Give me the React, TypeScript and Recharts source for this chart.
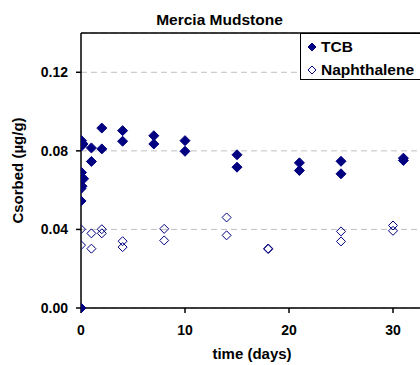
import React from "react";
import { ScatterChart, Scatter, XAxis, YAxis, CartesianGrid, ReferenceLine, Label } from "recharts";

const tcbDays = [0, 0, 0, 0.1, 0.25, 0.05, 0.05, 0.2, 0.05, 1, 1, 2, 2, 4, 4, 7, 7, 10, 10, 15, 15, 21, 21, 25, 25, 31, 31];
const tcbValues = [0, 0.0545, 0.0608, 0.062, 0.0658, 0.069, 0.0852, 0.0835, 0.0825, 0.0815, 0.0746, 0.0916, 0.081, 0.0903, 0.0849, 0.0877, 0.0835, 0.0852, 0.0798, 0.078, 0.0717, 0.0739, 0.07, 0.0747, 0.0683, 0.0763, 0.0751];

const naphDays = [0, 0, 1, 1, 2, 2, 4, 4, 8, 8, 14, 14, 18, 18, 25, 25, 30, 30];
const naphValues = [0.0401, 0.032, 0.038, 0.0302, 0.0401, 0.038, 0.034, 0.031, 0.0403, 0.0344, 0.0461, 0.037, 0.0303, 0.03, 0.039, 0.0339, 0.042, 0.0393];

const xTicks = [0, 10, 20, 30];
const yTicks = [0, 0.04, 0.08, 0.12];

const tcbData = tcbDays.map((d, i) => ({ x: d, y: tcbValues[i] }));
const naphData = naphDays.map((d, i) => ({ x: d, y: naphValues[i] }));

const NAVY = "#000080";
const FONT = "Arial, 'Liberation Sans', Helvetica, sans-serif";

function Diamond(props: any) {
    const { cx, cy, filled, r = filled ? 5 : 4.5 } = props;
    const pts = `${cx},${cy - r} ${cx + r},${cy} ${cx},${cy + r} ${cx - r},${cy}`;
    return filled
        ? <polygon points={pts} fill={NAVY} stroke={NAVY} strokeWidth={1} />
        : <polygon points={pts} fill="none" stroke={NAVY} strokeWidth={1} />;
}

function ChartLegend() {
    const row = (label: string, filled: boolean) => (
        <div style={{ display: "flex", alignItems: "center", height: 23 }}>
            <svg width={18} height={12}>
                <Diamond cx={10} cy={6} r={4} filled={filled} />
            </svg>
            <span style={{ marginLeft: 1 }}>{label}</span>
        </div>
    );
    return (
        <div
            style={{
                position: "absolute",
                left: 300,
                top: 33,
                border: "1px solid #000",
                background: "#fff",
                width: 140,
                height: 47,
                fontFamily: FONT,
                fontWeight: "bold",
                fontSize: 15.5,
                color: "#000",
                boxSizing: "border-box",
                paddingLeft: 1,
                paddingTop: 1,
            }}
        >
            {row("TCB", true)}
            {row("Naphthalene", false)}
        </div>
    );
}

export default function App() {
    return (
        <div style={{ position: "absolute", left: 0, top: 0, width: 420, height: 365, overflow: "hidden", background: "#fff" }}>
            <div
                style={{
                    position: "absolute",
                    left: 0,
                    width: 439,
                    top: 11,
                    textAlign: "center",
                    fontFamily: FONT,
                    fontWeight: "bold",
                    fontSize: 15.5,
                }}
            >
                Mercia Mudstone
            </div>
            <ScatterChart width={445} height={365} margin={{ top: 33, right: 0, bottom: 0, left: 0 }}>
                <CartesianGrid vertical={false} stroke="#c0c0c0" strokeDasharray="6 4" />
                <XAxis
                    type="number"
                    dataKey="x"
                    domain={[0, 35]}
                    ticks={xTicks}
                    allowDataOverflow
                    stroke="#000"
                    strokeWidth={1.5}
                    tickSize={5}
                    tickMargin={12}
                    height={57}
                    tick={{ fill: "#000", fontSize: 14, fontWeight: "bold", fontFamily: FONT }}
                >
                    <Label value="time (days)" position="insideBottom" offset={6} dx={-11} fill="#000" fontSize={15} fontWeight="bold" fontFamily={FONT} />
                </XAxis>
                <YAxis
                    type="number"
                    dataKey="y"
                    domain={[0, 0.14]}
                    ticks={yTicks}
                    tickFormatter={(v) => v.toFixed(2)}
                    stroke="#000"
                    strokeWidth={1.5}
                    tickSize={5}
                    tickMargin={8}
                    width={81}
                    tick={{ fill: "#000", fontSize: 14, fontWeight: "bold", fontFamily: FONT }}
                >
                    <Label value="Csorbed (µg/g)" angle={-90} position="insideLeft" offset={18} style={{ textAnchor: "middle" }} fill="#000" fontSize={15} fontWeight="bold" fontFamily={FONT} />
                </YAxis>
                <ReferenceLine y={0.14} stroke="#000" strokeWidth={1.5} ifOverflow="extendDomain" />
                <Scatter name="TCB" data={tcbData} shape={(p: any) => <Diamond {...p} filled />} isAnimationActive={false} />
                <Scatter name="Naphthalene" data={naphData} shape={(p: any) => <Diamond {...p} filled={false} />} isAnimationActive={false} />
            </ScatterChart>
            <ChartLegend />
        </div>
    );
}
